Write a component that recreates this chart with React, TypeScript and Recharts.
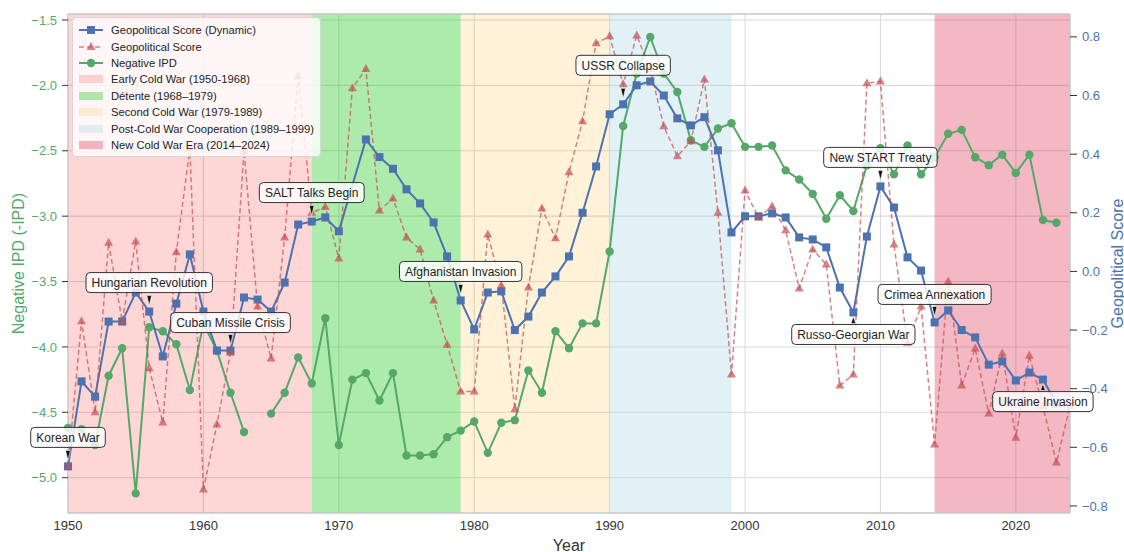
import React from "react";
import {
  LineChart,
  Line,
  XAxis,
  YAxis,
  CartesianGrid,
  ReferenceArea,
  Legend,
} from "recharts";

// x categories: one point per year
const years = Array.from({ length: 75 }, (_, i) => 1950 + i);

// blue squares, right axis (1971 has no marker in the source)
const dynamicScore = [
  -0.665, -0.375, -0.427, -0.171, -0.171, -0.072, -0.137, -0.29, -0.11, 0.058,
  -0.137, -0.27, -0.27, -0.089, -0.096, -0.137, -0.038, 0.16, 0.17, 0.184,
  0.137, null, 0.45, 0.39, 0.35, 0.28, 0.232, 0.167, 0.051, -0.099,
  -0.198, -0.072, -0.068, -0.2, -0.154, -0.072, -0.017, 0.051, 0.2, 0.358,
  0.536, 0.57, 0.635, 0.648, 0.6, 0.522, 0.498, 0.526, 0.413, 0.133,
  0.188, 0.188, 0.198, 0.184, 0.116, 0.109, 0.082, -0.055, -0.14, 0.119,
  0.29, 0.218, 0.048, 0.003, -0.174, -0.133, -0.2, -0.225, -0.318, -0.307,
  -0.372, -0.345, -0.369, -0.45, null,
];

// red dashed triangles, right axis
const geoScore = [
  -0.665, -0.17, -0.48, 0.098, -0.17, 0.102, -0.33, -0.515, 0.065, 0.42,
  -0.744, -0.522, -0.277, 0.41, -0.12, -0.297, 0.116, 0.666, 0.2, 0.22,
  0.044, 0.625, 0.69, 0.208, 0.249, 0.116, 0.075, -0.099, -0.25, -0.41,
  -0.41, 0.126, -0.048, -0.47, -0.055, 0.215, 0.113, 0.338, 0.512, 0.778,
  0.802, 0.638, 0.805, 0.69, 0.495, 0.393, 0.444, 0.655, 0.2, -0.352,
  0.276, 0.184, 0.222, 0.14, -0.058, 0.075, 0.024, -0.389, -0.352, 0.642,
  0.648, 0.092, -0.243, -0.12, -0.59, -0.034, -0.389, -0.263, -0.485, -0.28,
  -0.567, -0.288, -0.46, -0.652, -0.46,
];

// green circles, left axis (gap in 1964)
const negativeIpd = [
  -4.62, -4.63, -4.75, -4.22, -4.01, -5.12, -3.85, -3.88, -3.98, -4.33,
  -3.82, -4.03, -4.35, -4.65, null, -4.51, -4.35, -4.08, -4.28, -3.78,
  -4.75, -4.25, -4.2, -4.41, -4.2, -4.83, -4.83, -4.82, -4.69, -4.64,
  -4.57, -4.81, -4.58, -4.56, -4.18, -4.35, -3.88, -4.01, -3.82, -3.82,
  -3.27, -2.31, -1.91, -1.63, -1.91, -2.05, -2.42, -2.47, -2.33, -2.29,
  -2.47, -2.47, -2.46, -2.65, -2.72, -2.83, -3.02, -2.84, -2.96, -2.61,
  -2.48, -2.68, -2.46, -2.68, -2.55, -2.37, -2.34, -2.55, -2.61, -2.53,
  -2.67, -2.53, -3.03, -3.05, null,
];

const yearTicks = [1950, 1960, 1970, 1980, 1990, 2000, 2010, 2020];
const ipdTicks = [-5, -4.5, -4, -3.5, -3, -2.5, -2, -1.5];
const scoreTicks = [-0.8, -0.6, -0.4, -0.2, 0, 0.2, 0.4, 0.6, 0.8];

const periodNames = [
  "Early Cold War (1950-1968)",
  "Détente (1968–1979)",
  "Second Cold War (1979-1989)",
  "Post-Cold War Cooperation (1989–1999)",
  "New Cold War Era (2014–2024)",
];
const periodStart = [1950, 1968, 1979, 1990, 2014];
const periodEnd = [1968, 1979, 1990, 1999, 2024];

const eventNames = [
  "Korean War",
  "Hungarian Revolution",
  "Cuban Missile Crisis",
  "SALT Talks Begin",
  "Afghanistan Invasion",
  "USSR Collapse",
  "New START Treaty",
  "Russo-Georgian War",
  "Crimea Annexation",
  "Ukraine Invasion",
];
const eventYears = [1950, 1956, 1962, 1968, 1979, 1991, 2010, 2008, 2014, 2022];

const FONT = '"Liberation Sans", Arial, sans-serif';
const BLUE = "#4c72b0";
const GREEN = "#55a868";
const RED = "#c44e52";

// span colours (colour, opacity) in the same order as periodNames
const periodFill = [
  ["#ff0000", 0.16],
  ["#32cd32", 0.4],
  ["#ffa500", 0.15],
  ["#add8e6", 0.35],
  ["#dc143c", 0.3],
] as [string, number][];

// vertical offset of each label box from its point, px
const eventOffset = [-29, -29, -28, -29, -29, -39, -29, 22, -28, 22];

const IPD_DOMAIN: [number, number] = [-5.27, -1.454];
const SCORE_DOMAIN: [number, number] = [-0.824, 0.878];

const data = years.map((year, i) => ({
  year,
  dynamic: dynamicScore[i],
  score: geoScore[i],
  ipd: negativeIpd[i],
  // annotated points sit on the dynamic series
  event: eventYears.includes(year) ? dynamicScore[i] : null,
}));

const fmt = (v: number) => v.toFixed(1).replace("-", "\u2212");

let measureCtx: CanvasRenderingContext2D | null = null;
function textWidth(s: string, size: number) {
  if (!measureCtx) measureCtx = document.createElement("canvas").getContext("2d");
  if (!measureCtx) return s.length * size * 0.55;
  measureCtx.font = `${size}px "Liberation Sans", Arial`;
  return measureCtx.measureText(s).width;
}

const squareDot = (p: any) => {
  const { cx, cy, index, value } = p;
  if (cx == null || cy == null || value == null) return <g key={`s${index}`} />;
  return <rect key={`s${index}`} x={cx - 4} y={cy - 4} width={8} height={8} fill={BLUE} />;
};

const triangleDot = (p: any) => {
  const { cx, cy, index, value } = p;
  if (cx == null || cy == null || value == null) return <g key={`t${index}`} />;
  return (
    <polygon
      key={`t${index}`}
      points={`${cx},${cy - 5} ${cx + 4.5},${cy + 3} ${cx - 4.5},${cy + 3}`}
      fill={RED}
      fillOpacity={0.7}
    />
  );
};

const circleDot = (p: any) => {
  const { cx, cy, index, value } = p;
  if (cx == null || cy == null || value == null) return <g key={`c${index}`} />;
  return <circle key={`c${index}`} cx={cx} cy={cy} r={4.2} fill={GREEN} />;
};

// label box + small black arrow pointing at the event point
const eventDot = (p: any) => {
  const { cx, cy, index, value, payload } = p;
  const k = eventYears.indexOf(payload?.year);
  if (cx == null || cy == null || value == null || k < 0) return <g key={`e${index}`} />;
  const text = eventNames[k];
  const dy = eventOffset[k];
  const w = textWidth(text, 12) + 11;
  const h = 20;
  const by = cy + dy;
  let tail: number;
  let tip: number;
  if (dy < 0) {
    tip = cy - 6;
    tail = tip - 10;
  } else {
    tip = cy + 4;
    tail = by - h / 2 - 1;
  }
  const hw = 2.4;
  return (
    <g key={`e${index}`}>
      <polygon
        points={`${cx - hw},${tail} ${cx + hw},${tail} ${cx},${tip}`}
        fill="#111"
        stroke="#fff"
        strokeWidth={0.6}
      />
      <rect
        x={cx - w / 2}
        y={by - h / 2}
        width={w}
        height={h}
        rx={4}
        fill="#fff"
        fillOpacity={0.82}
        stroke="#333"
        strokeWidth={1}
      />
      <text
        x={cx}
        y={by + 0.5}
        textAnchor="middle"
        dominantBaseline="central"
        fontSize={12}
        fontFamily={FONT}
        fill="#222"
      >
        {text}
      </text>
    </g>
  );
};

function LegendBox() {
  const row = { display: "flex", alignItems: "center", height: 16.4 } as React.CSSProperties;
  const lineRows = [
    { name: "Geopolitical Score (Dynamic)", color: BLUE, dash: undefined, op: 1, mark: "square" },
    { name: "Geopolitical Score", color: RED, dash: "5 3", op: 0.7, mark: "triangle" },
    { name: "Negative IPD", color: GREEN, dash: undefined, op: 1, mark: "circle" },
  ];
  return (
    <div
      style={{
        background: "rgba(255,255,255,0.8)",
        border: "1px solid #d6d6d6",
        borderRadius: 4,
        padding: "4px 6px 3px 5px",
        fontFamily: FONT,
        fontSize: 11.2,
        color: "#222",
        whiteSpace: "nowrap",
      }}
    >
      {lineRows.map((r) => (
        <div key={r.name} style={row}>
          <svg width={26} height={16}>
            <line x1={1} y1={8} x2={25} y2={8} stroke={r.color} strokeOpacity={r.op} strokeWidth={r.dash ? 1.5 : 2} strokeDasharray={r.dash} />
            {r.mark === "square" && <rect x={9} y={4} width={8} height={8} fill={r.color} />}
            {r.mark === "triangle" && <polygon points="13,3 17.5,11 8.5,11" fill={r.color} fillOpacity={r.op} />}
            {r.mark === "circle" && <circle cx={13} cy={8} r={4.2} fill={r.color} />}
          </svg>
          <span style={{ marginLeft: 7 }}>{r.name}</span>
        </div>
      ))}
      {periodNames.map((name, i) => (
        <div key={name} style={row}>
          <svg width={26} height={16}>
            <rect x={1} y={4} width={24} height={8} fill={periodFill[i][0]} fillOpacity={periodFill[i][1]} />
          </svg>
          <span style={{ marginLeft: 7 }}>{name}</span>
        </div>
      ))}
    </div>
  );
}

export default function App() {
  return (
    <div style={{ position: "absolute", left: 0, top: 0, background: "#fff" }}>
      <LineChart
        width={1124}
        height={552}
        data={data}
        margin={{ top: 14, right: 0, bottom: 0, left: 0 }}
        style={{ fontFamily: FONT }}
      >
        <CartesianGrid yAxisId="ipd" stroke="#dadada" strokeWidth={1.1} />
        {periodNames.map((name, i) => (
          <ReferenceArea
            key={name}
            yAxisId="ipd"
            x1={periodStart[i]}
            x2={periodEnd[i]}
            fill={periodFill[i][0]}
            fillOpacity={periodFill[i][1]}
            stroke="none"
          />
        ))}
        <ReferenceArea
          yAxisId="ipd"
          x1={1950}
          x2={2024}
          y1={IPD_DOMAIN[0]}
          y2={IPD_DOMAIN[1]}
          fill="none"
          stroke="#cccccc"
          strokeWidth={1.3}
        />
        <XAxis
          dataKey="year"
          type="number"
          domain={[1950, 2024]}
          ticks={yearTicks}
          height={39}
          axisLine={false}
          tickLine={false}
          tickSize={4}
          tickMargin={4}
          tick={{ fill: "#333", fontSize: 13, fontFamily: FONT }}
          label={(props: any) => {
            const vb = props.viewBox;
            return (
              <text x={vb.x + vb.width / 2} y={vb.y + 32} textAnchor="middle" dominantBaseline="central" fontSize={16} fill="#333" fontFamily={FONT}>
                Year
              </text>
            );
          }}
        />
        <YAxis
          yAxisId="ipd"
          orientation="left"
          type="number"
          domain={IPD_DOMAIN}
          ticks={ipdTicks}
          allowDataOverflow
          width={68}
          axisLine={false}
          tickLine={{ stroke: "#333" }}
          tickSize={6}
          tickMargin={5}
          tickFormatter={fmt}
          tick={{ fill: GREEN, fontSize: 13, fontFamily: FONT }}
          label={(props: any) => {
            const vb = props.viewBox;
            const x = vb.x + 18;
            const y = vb.y + vb.height / 2;
            return (
              <text x={x} y={y} transform={`rotate(-90 ${x} ${y})`} textAnchor="middle" dominantBaseline="central" fontSize={16} fill={GREEN} fontFamily={FONT}>
                Negative IPD (-IPD)
              </text>
            );
          }}
        />
        <YAxis
          yAxisId="geo"
          orientation="right"
          type="number"
          domain={SCORE_DOMAIN}
          ticks={scoreTicks}
          width={54}
          axisLine={false}
          tickLine={{ stroke: "#333" }}
          tickSize={7}
          tickMargin={5}
          tickFormatter={fmt}
          tick={{ fill: BLUE, fontSize: 13, fontFamily: FONT }}
          label={(props: any) => {
            const vb = props.viewBox;
            const x = vb.x + 47;
            const y = vb.y + vb.height / 2;
            return (
              <text x={x} y={y} transform={`rotate(-90 ${x} ${y})`} textAnchor="middle" dominantBaseline="central" fontSize={16} fill={BLUE} fontFamily={FONT}>
                Geopolitical Score
              </text>
            );
          }}
        />
        <Line
          yAxisId="ipd"
          dataKey="ipd"
          stroke={GREEN}
          strokeWidth={2}
          dot={circleDot}
          activeDot={false}
          isAnimationActive={false}
        />
        <Line
          yAxisId="geo"
          dataKey="dynamic"
          stroke={BLUE}
          strokeWidth={2}
          connectNulls
          dot={squareDot}
          activeDot={false}
          isAnimationActive={false}
        />
        <Line
          yAxisId="geo"
          dataKey="score"
          stroke={RED}
          strokeOpacity={0.7}
          strokeWidth={1.5}
          strokeDasharray="5 3"
          dot={triangleDot}
          activeDot={false}
          isAnimationActive={false}
        />
        <Line
          yAxisId="geo"
          dataKey="event"
          stroke="none"
          legendType="none"
          dot={eventDot}
          activeDot={false}
          isAnimationActive={false}
        />
        <Legend
          layout="vertical"
          verticalAlign="middle"
          align="center"
          content={() => <LegendBox />}
          wrapperStyle={{ left: 72, top: 17, width: "auto", height: "auto", right: "auto", bottom: "auto" }}
        />
      </LineChart>
    </div>
  );
}
